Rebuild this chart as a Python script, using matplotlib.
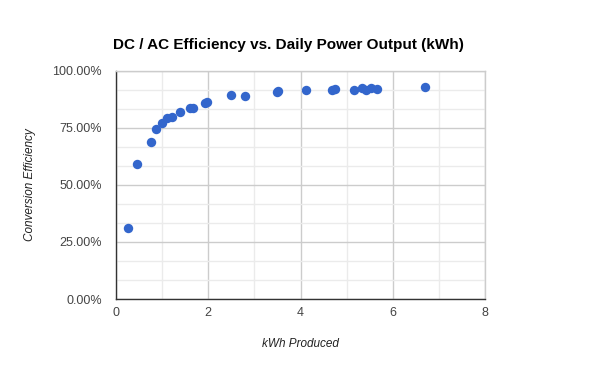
import matplotlib
matplotlib.use("Agg")
import matplotlib.pyplot as plt
from matplotlib.ticker import MultipleLocator, FuncFormatter

kwh = [0.27, 0.46, 0.75, 0.875, 1.0, 1.11, 1.22, 1.38, 1.61, 1.68, 1.92, 1.97,
       2.49, 2.80, 3.49, 3.52, 4.11, 4.69, 4.74, 5.17, 5.33, 5.42, 5.52, 5.66, 6.70]
efficiency = [31.3, 59.1, 68.7, 74.6, 77.0, 79.5, 79.7, 81.9, 83.6, 83.9, 85.8, 86.5,
              89.3, 89.2, 90.9, 91.2, 91.7, 91.7, 92.1, 91.8, 92.4, 91.8, 92.5, 92.1, 93.1]

title = "DC / AC Efficiency vs. Daily Power Output (kWh)"
xlabel = "kWh Produced"
ylabel = "Conversion Efficiency"

plt.rcParams['font.family'] = ['Liberation Sans', 'DejaVu Sans']

fig = plt.figure(figsize=(6, 3.71), dpi=100)
ax = fig.add_axes([116/600, 72/371, 369/600, 228/371])

ax.scatter(kwh, efficiency, s=46, color='#3366cc', zorder=3, linewidths=0, clip_on=False)

ax.set_xlim(0, 8)
ax.set_ylim(0, 100)
ax.xaxis.set_major_locator(MultipleLocator(2))
ax.xaxis.set_minor_locator(MultipleLocator(1))
ax.yaxis.set_major_locator(MultipleLocator(25))
ax.yaxis.set_minor_locator(MultipleLocator(25/3))
ax.yaxis.set_major_formatter(FuncFormatter(lambda v, p: f"{v:.2f}%"))

ax.grid(which='major', color='#cccccc', linewidth=1, zorder=0)
ax.grid(which='minor', color='#ebebeb', linewidth=1, zorder=0)
ax.set_axisbelow(True)

ax.spines['top'].set_color('#cccccc')
ax.spines['right'].set_color('#cccccc')
ax.spines['left'].set_color('#333333')
ax.spines['bottom'].set_color('#333333')
for s in ax.spines.values():
    s.set_linewidth(1)

ax.tick_params(which='both', length=0, labelsize=9, colors='#444444')
ax.tick_params(axis='y', pad=10)
ax.tick_params(axis='x', pad=6)

fig.text(288/600, (371-45)/371, title, ha='center', va='center', fontsize=11, fontweight='bold', color='#000000')
fig.text(300/600, (371-344)/371, xlabel, ha='center', va='center', fontsize=8.5, style='italic', color='#222222')
fig.text(30/600, (371-185)/371, ylabel, ha='center', va='center', fontsize=8.5, style='italic', color='#222222', rotation=90)

fig.savefig("out.png", dpi=100, facecolor='white')
